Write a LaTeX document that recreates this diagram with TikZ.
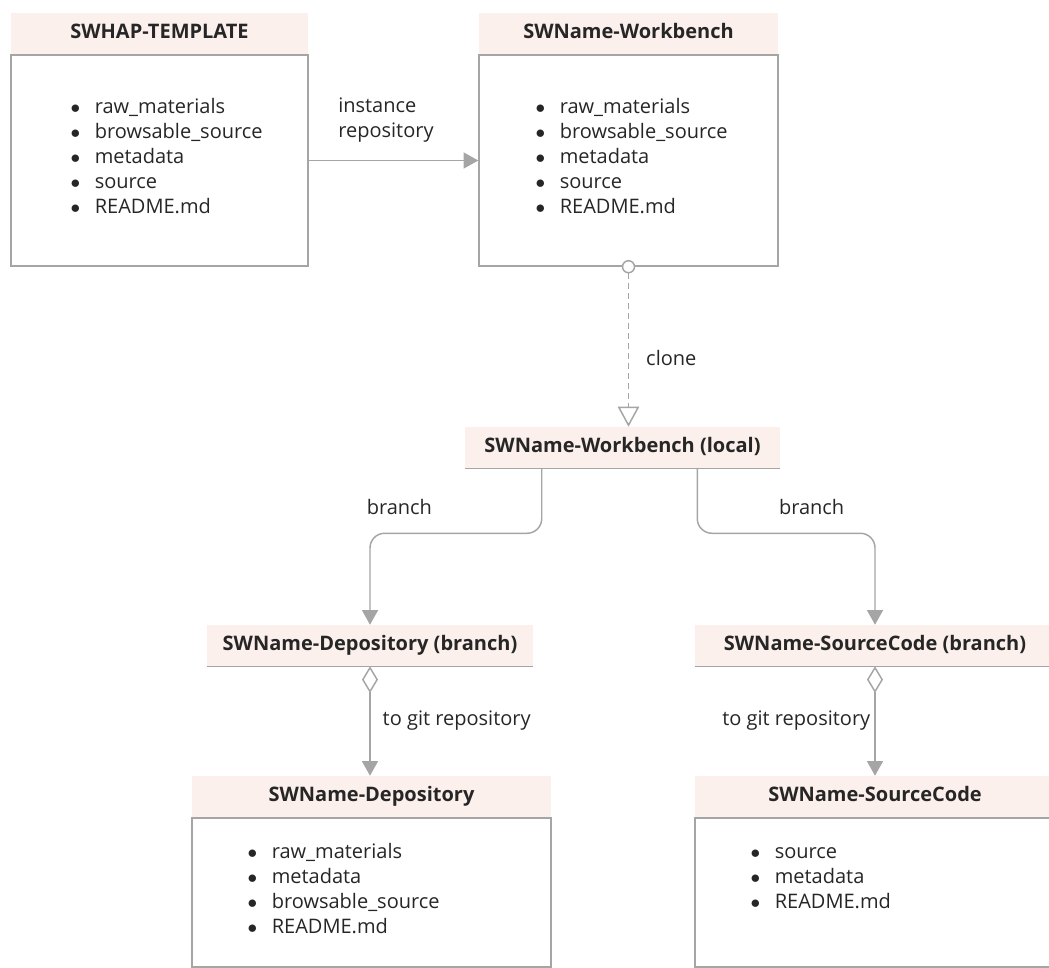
\documentclass[tikz,border=0pt]{standalone}
\usepackage{fontspec}
\setmainfont{Open Sans}
\usetikzlibrary{positioning, arrows.meta, calc}
\definecolor{headfill}{HTML}{FCF0EC}
\definecolor{linegray}{HTML}{A5A5A5}
\definecolor{textdark}{HTML}{262626}

\begin{document}
\begin{tikzpicture}[
        x=0.75pt, y=-0.75pt,
        font=\fontsize{15}{18.75}\selectfont, text=textdark,
        head/.style={fill=headfill, minimum width=#1, minimum height=30.75pt, inner sep=0pt,
            text height=11pt, text depth=3.5pt, font=\fontsize{15}{17}\selectfont\bfseries},
        body/.style={draw=linegray, line width=1.1pt, below=0pt of #1, minimum height=158.25pt, inner sep=0pt},
        lowbody/.style={body=#1, minimum height=111.75pt},
        items/.style={anchor=north west, align=left, inner sep=0pt},
        conn/.style={draw=linegray, line width=1.1pt},
        filltip/.style={-{Triangle[length=11pt, width=12pt, fill=linegray]}},
        lbl/.style={inner sep=0pt, align=left}
    ]
        \path[use as bounding box, clip] (0,0) rectangle (1049,967);
        \newcommand{\dirItem}[1]{\strut$\bullet$\hspace{11pt}#1}

        % remote repositories
        \node[head=222.75pt] (tmpl) at (159.5,33.5) {SWHAP-TEMPLATE};
        \node[body=tmpl, minimum width=222.75pt] (tmpl-body) {};
        \node[items] (tmpl-list) at ($(tmpl-body.north west)+(60,41.5)$) {%
            \dirItem{raw\_materials}\\ \dirItem{browsable\_source}\\ \dirItem{metadata}\\
            \dirItem{source}\\ \dirItem{README.md}};

        \node[head=224.25pt] (wb) at (628.5,33.5) {SWName-Workbench};
        \node[body=wb, minimum width=224.25pt] (wb-body) {};
        \node[items] (wb-list) at ($(wb-body.north west)+(57,41.5)$) {%
            \dirItem{raw\_materials}\\ \dirItem{browsable\_source}\\ \dirItem{metadata}\\
            \dirItem{source}\\ \dirItem{README.md}};
        \node[circle, draw=linegray, line width=1.1pt, fill=white, inner sep=0pt, minimum size=9pt] (wb-port) at (wb-body.south) {};

        % local clone and its branches
        \node[head=236.25pt] (local) at (622.5,447.5) {SWName-Workbench (local)};
        \node[head=244.5pt] (depb) at (370,645.5) {SWName-Depository (branch)};
        \node[head=270pt] (srcb) at (875,645.5) {SWName-SourceCode (branch)};
        \draw[conn] (local.south west) -- (local.south east);
        \draw[conn] (depb.south west) -- (depb.south east);
        \draw[conn] (srcb.south west) -- (srcb.south east);

        % git repositories
        \node[head=269.25pt] (dep) at (371.5,796.5) {SWName-Depository};
        \node[lowbody=dep, minimum width=269.25pt] (dep-body) {};
        \node[items] (dep-list) at ($(dep-body.north west)+(56,23.5)$) {%
            \dirItem{raw\_materials}\\ \dirItem{metadata}\\ \dirItem{browsable\_source}\\
            \dirItem{README.md}};

        \node[head=270pt] (src) at (875,796.5) {SWName-SourceCode};
        \node[lowbody=src, minimum width=270pt] (src-body) {};
        \node[items] (src-list) at ($(src-body.north west)+(56,23.5)$) {%
            \dirItem{source}\\ \dirItem{metadata}\\ \dirItem{README.md}};

        % connectors
        \draw[conn, filltip] (tmpl-body) -- (wb-body)
            node[lbl, pos=0.17, anchor=south west, yshift=13pt] (inst-lbl) {instance\\repository};
        \draw[conn, dash pattern=on 4.5pt off 3pt, -{Triangle[open, length=15pt, width=16pt, fill=white]}]
            (wb-port) -- (wb-port |- local.north)
            node[lbl, pos=0.55, right=12.75pt] (clone-lbl) {clone};
        \draw[conn, filltip, rounded corners=11pt] ([xshift=57.75pt]local.south west) -- ++(0,65)
            node[lbl, pos=0.6, left=81.75pt] (brl-lbl) {branch} -| (depb.north);
        \draw[conn, filltip, rounded corners=11pt] ([xshift=-62.25pt]local.south east) -- ++(0,65)
            node[lbl, pos=0.6, right=60.75pt] (brr-lbl) {branch} -| (srcb.north);
        \draw[conn, {Diamond[open, length=20pt, width=12pt, fill=white]}-{Triangle[length=11pt, width=12pt, fill=linegray]}]
            (depb.south) -- (depb.south |- dep.north)
            node[lbl, midway, right=9pt] (gitl-lbl) {to git repository};
        \draw[conn, {Diamond[open, length=20pt, width=12pt, fill=white]}-{Triangle[length=11pt, width=12pt, fill=linegray]}]
            (srcb.south) -- (srcb.south |- src.north)
            node[lbl, midway, left=3pt] (gitr-lbl) {to git repository};
    \end{tikzpicture}
\end{document}
